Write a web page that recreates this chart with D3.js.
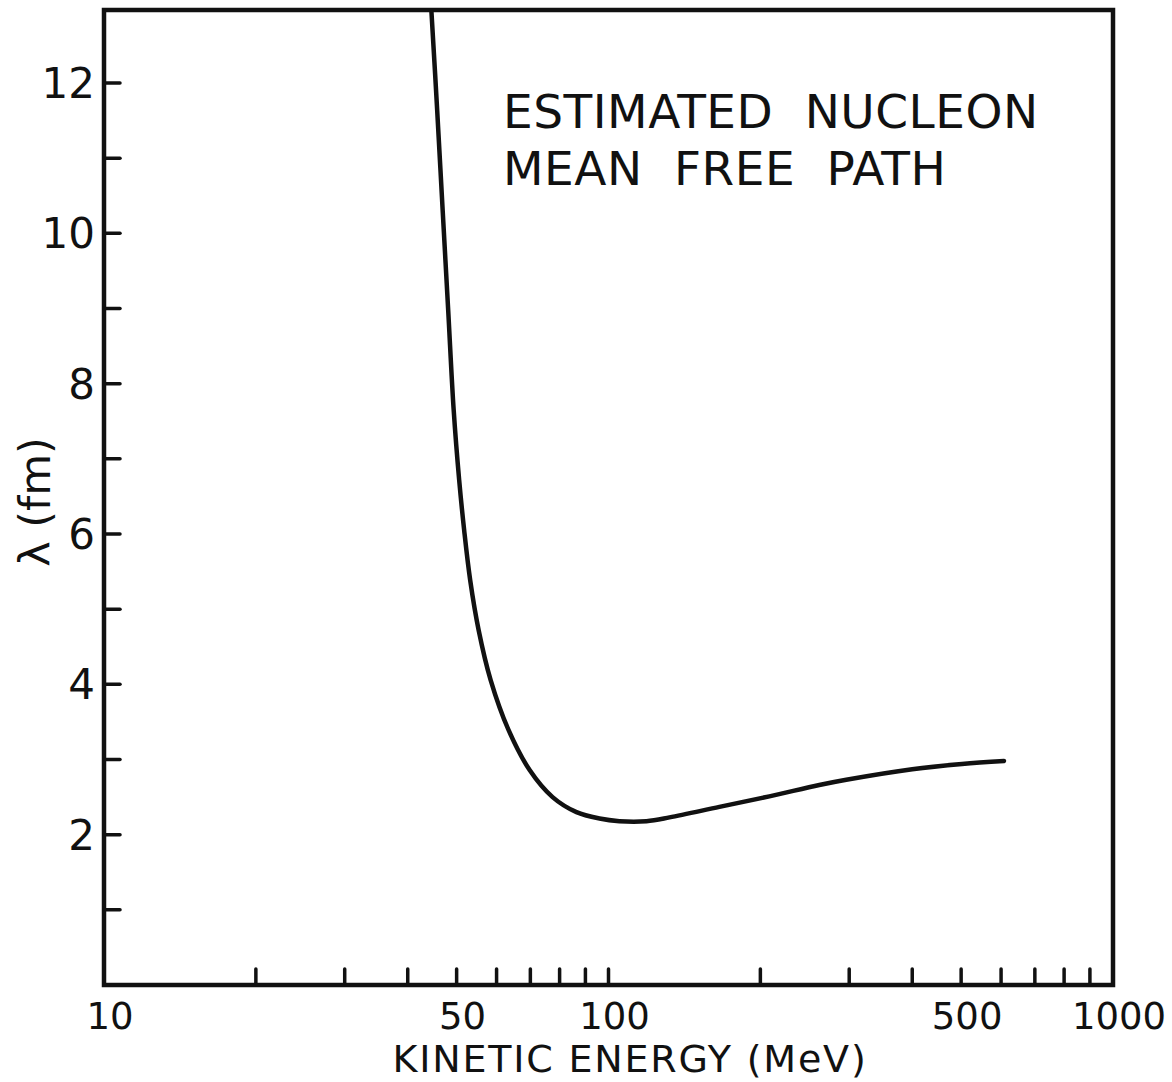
<!DOCTYPE html>
<html>
<head>
<meta charset="utf-8">
<script src="https://cdn.jsdelivr.net/npm/d3@7"></script>
<style>
  html, body { margin: 0; padding: 0; background: #fff; }
  svg { display: block; }
  text { font-family: "DejaVu Sans", sans-serif; fill: #111; }
</style>
</head>
<body>
<svg id="chart" width="1172" height="1082"></svg>
<script>
// Estimated nucleon mean free path vs kinetic energy
const energyMeV = [44.2, 44.55, 45.75, 46.91, 48.11, 49.33, 50.58, 51.75, 53.18, 55.29, 58.38, 63.39, 69.77, 77.47, 86.4, 95.98, 105.1, 118.9, 132.1, 165.9, 208.4, 261.7, 296, 400, 502, 608];
const lambdaFm  = [13.3, 12.97, 11.64, 10.31, 8.98, 7.65, 6.72, 6.05, 5.39, 4.72, 4.06, 3.39, 2.86, 2.50, 2.30, 2.215, 2.18, 2.18, 2.23, 2.37, 2.51, 2.66, 2.73, 2.87, 2.94, 2.98];

const xMinorTicks = [20, 30, 40, 50, 60, 70, 80, 90, 100, 200, 300, 400, 500, 600, 700, 800, 900];
const xTickLabels = [10, 50, 100, 500, 1000];
const yTicks = [1, 2, 3, 4, 5, 6, 7, 8, 9, 10, 11, 12];
const yTickLabels = [2, 4, 6, 8, 10, 12];

const titleLines = ["ESTIMATED NUCLEON", "MEAN FREE PATH"];
const xTitle = "KINETIC ENERGY (MeV)";
const yTitle = "λ (fm)";

const svg = d3.select("#chart");
const plotLeft = 104, plotRight = 1113, plotTop = 10, plotBottom = 985;

const x = d3.scaleLog().domain([10, 1000]).range([plotLeft, plotRight]);
const y = d3.scaleLinear().domain([0, 12]).range([plotBottom, 83]);

svg.append("defs").append("clipPath").attr("id", "plotClip")
  .append("rect").attr("x", plotLeft).attr("y", plotTop)
  .attr("width", plotRight - plotLeft).attr("height", plotBottom - plotTop);

// inward ticks along the bottom
svg.append("g").selectAll("line").data(xMinorTicks).join("line")
  .attr("x1", d => x(d)).attr("x2", d => x(d))
  .attr("y1", plotBottom).attr("y2", plotBottom - 16)
  .attr("stroke", "#111").attr("stroke-width", 3.5).attr("stroke-linecap", "round");

// inward ticks along the left side
svg.append("g").selectAll("line").data(yTicks).join("line")
  .attr("x1", plotLeft).attr("x2", plotLeft + 16)
  .attr("y1", d => y(d)).attr("y2", d => y(d))
  .attr("stroke", "#111").attr("stroke-width", 3.5).attr("stroke-linecap", "round");

// frame
svg.append("rect")
  .attr("x", plotLeft).attr("y", plotTop)
  .attr("width", plotRight - plotLeft).attr("height", plotBottom - plotTop)
  .attr("fill", "none").attr("stroke", "#111").attr("stroke-width", 4.5);

// tick labels
svg.append("g").selectAll("text").data(xTickLabels).join("text")
  .attr("x", d => x(d) + 6).attr("y", 1029)
  .attr("text-anchor", "middle").attr("font-size", 37)
  .text(d => d);

svg.append("g").selectAll("text").data(yTickLabels).join("text")
  .attr("x", 95).attr("y", d => y(d) + 15)
  .attr("text-anchor", "end").attr("font-size", 42)
  .text(d => d);

// axis titles
svg.append("text")
  .attr("x", 630).attr("y", 1072)
  .attr("text-anchor", "middle").attr("font-size", 38)
  .attr("letter-spacing", 1.8)
  .text(xTitle);

svg.append("text")
  .attr("transform", "translate(50,502) rotate(-90)")
  .attr("text-anchor", "middle").attr("font-size", 43)
  .text(yTitle);

// annotation
svg.append("g").selectAll("text").data(titleLines).join("text")
  .attr("x", 503).attr("y", (d, i) => 128 + i * 57)
  .attr("font-size", 47)
  .attr("letter-spacing", 0.5)
  .attr("word-spacing", 16)
  .text(d => d);

// curve
const line = d3.line()
  .x((d, i) => x(energyMeV[i]))
  .y((d, i) => y(lambdaFm[i]))
  .curve(d3.curveCatmullRom.alpha(0.5));

svg.append("path")
  .datum(energyMeV)
  .attr("clip-path", "url(#plotClip)")
  .attr("d", line)
  .attr("fill", "none").attr("stroke", "#111").attr("stroke-width", 4.5)
  .attr("stroke-linecap", "round").attr("stroke-linejoin", "round");
</script>
</body>
</html>
